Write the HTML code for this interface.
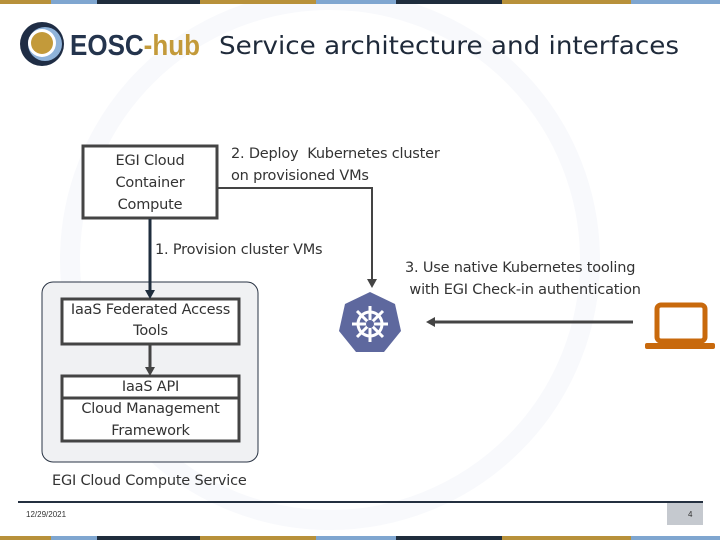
<!DOCTYPE html>
<html><head><meta charset="utf-8"><style>
body{margin:0;width:720px;height:540px;background:#fff;position:relative;overflow:hidden;font-family:"DejaVu Sans","Liberation Sans",sans-serif;}
.a{position:absolute}
.t{font-size:14.5px;color:#333;text-align:center;line-height:22px;letter-spacing:-0.2px}
</style></head><body>
<svg class="a" style="left:0;top:0" width="720" height="540">
<circle cx="330" cy="260" r="260" fill="none" stroke="#f8f9fc" stroke-width="20"/>
<g>
<rect x="0" y="0" width="51" height="4" fill="#b8913a"/><rect x="51" y="0" width="46" height="4" fill="#7fa6d0"/><rect x="97" y="0" width="103" height="4" fill="#1f2d3d"/><rect x="200" y="0" width="116" height="4" fill="#b8913a"/><rect x="316" y="0" width="80" height="4" fill="#7fa6d0"/><rect x="396" y="0" width="106" height="4" fill="#1f2d3d"/><rect x="502" y="0" width="129" height="4" fill="#b8913a"/><rect x="631" y="0" width="89" height="4" fill="#7fa6d0"/>
</g>
<g transform="translate(0,536)">
<rect x="0" y="0" width="51" height="4" fill="#b8913a"/><rect x="51" y="0" width="46" height="4" fill="#7fa6d0"/><rect x="97" y="0" width="103" height="4" fill="#1f2d3d"/><rect x="200" y="0" width="116" height="4" fill="#b8913a"/><rect x="316" y="0" width="80" height="4" fill="#7fa6d0"/><rect x="396" y="0" width="106" height="4" fill="#1f2d3d"/><rect x="502" y="0" width="129" height="4" fill="#b8913a"/><rect x="631" y="0" width="89" height="4" fill="#7fa6d0"/>
</g>
<circle cx="42" cy="44" r="22" fill="#1f2d45"/>
<circle cx="45" cy="44" r="17" fill="#8fb3da"/>
<circle cx="42" cy="43" r="14" fill="#fff"/>
<circle cx="42" cy="43" r="11" fill="#c39a3a"/>
<text x="70" y="55" font-family="Liberation Sans,sans-serif" font-weight="bold" font-size="29" fill="#24344d" textLength="130" lengthAdjust="spacingAndGlyphs">EOSC<tspan fill="#c39a3a">-hub</tspan></text>
<text x="219" y="54" font-family="DejaVu Sans,sans-serif" font-size="25" fill="#1f2a3a" textLength="460" lengthAdjust="spacingAndGlyphs">Service architecture and interfaces</text>
<rect x="42" y="282" width="216" height="180" rx="11" fill="#f0f1f3" stroke="#2a3444" stroke-width="1"/>
<rect x="83" y="146" width="134" height="72" fill="#fff" stroke="#444" stroke-width="3"/>
<rect x="62" y="299" width="177" height="45" fill="#fff" stroke="#444" stroke-width="3"/>
<rect x="62" y="376" width="177" height="65" fill="#fff" stroke="#444" stroke-width="3"/>
<line x1="62" y1="398" x2="239" y2="398" stroke="#444" stroke-width="3"/>
<line x1="150" y1="219" x2="150" y2="292" stroke="#1f2d3d" stroke-width="3"/>
<path d="M145 290 L155 290 L150 299Z" fill="#1f2d3d"/>
<line x1="150" y1="345" x2="150" y2="369" stroke="#444" stroke-width="3"/>
<path d="M145 367 L155 367 L150 376Z" fill="#444"/>
<polyline points="218,188 372,188 372,280" fill="none" stroke="#444" stroke-width="2"/>
<path d="M367 279 L377 279 L372 288Z" fill="#444"/>
<line x1="633" y1="322" x2="433" y2="322" stroke="#444" stroke-width="3"/>
<path d="M435 317 L435 327 L426 322Z" fill="#444"/>
<polygon points="370,292 395,304 401,331 384,352 356,352 339,331 345,304" fill="#5e689e"/>
<g stroke="#fff" fill="none" stroke-width="3">
<circle cx="370" cy="324" r="12"/>
<line x1="370" y1="306" x2="370" y2="342"/><line x1="352" y1="324" x2="388" y2="324"/>
<line x1="357" y1="311" x2="383" y2="337"/><line x1="383" y1="311" x2="357" y2="337"/>
</g>
<circle cx="370" cy="324" r="4" fill="#5e689e"/>
<rect x="657" y="305" width="48" height="36" rx="4" fill="none" stroke="#c8690c" stroke-width="5"/>
<rect x="645" y="343" width="70" height="6" rx="2" fill="#c8690c"/>
<line x1="18" y1="502" x2="703" y2="502" stroke="#243040" stroke-width="2"/>
<rect x="667" y="503" width="36" height="22" fill="#c5c9cf"/>
<text x="688" y="517" font-size="8" fill="#333" font-family="Liberation Sans,sans-serif">4</text>
<text x="26" y="517" font-size="8" fill="#333" font-family="Liberation Sans,sans-serif">12/29/2021</text>
</svg>
<div class="a t" style="left:83px;top:150px;width:134px">EGI Cloud<br>Container<br>Compute</div>
<div class="a t" style="left:231px;top:143px;text-align:left">2. Deploy&nbsp; Kubernetes cluster<br>on provisioned VMs</div>
<div class="a t" style="left:155px;top:239px;text-align:left">1. Provision cluster VMs</div>
<div class="a t" style="left:405px;top:257px;text-align:left">3. Use native Kubernetes tooling<br>&nbsp;with EGI Check-in authentication</div>
<div class="a t" style="left:62px;top:300px;width:177px;line-height:21px">IaaS Federated Access<br>Tools</div>
<div class="a t" style="left:62px;top:376px;width:177px;line-height:22px">IaaS API<br>Cloud Management<br>Framework</div>
<div class="a t" style="left:52px;top:470px;text-align:left">EGI Cloud Compute Service</div>
</body></html>
